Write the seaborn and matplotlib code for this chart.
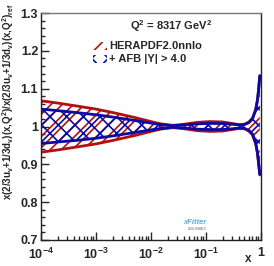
import numpy as np
import pandas as pd
import seaborn as sns
import matplotlib
matplotlib.use("Agg")
import matplotlib.pyplot as plt
from matplotlib.patches import Rectangle
from matplotlib.ticker import FixedLocator, FixedFormatter, LogLocator, NullFormatter, MultipleLocator

# values
xs = [1e-4, 2e-4, 5e-4, 1e-3, 2e-3, 5e-3, 1e-2, 1.5e-2, 2.5e-2, 4e-2, 7e-2,
      0.12, 0.2, 0.3, 0.4, 0.5, 0.6, 0.7, 0.8, 0.86, 0.9, 0.95]
red_up = [1.068, 1.062, 1.053, 1.046, 1.037, 1.024, 1.013, 1.007, 1.003, 1.006, 1.011,
          1.013, 1.012, 1.008, 1.005, 1.006, 1.012, 1.022, 1.045, 1.070, 1.095, 1.135]
red_dn = [0.932, 0.938, 0.947, 0.954, 0.963, 0.976, 0.987, 0.993, 0.997, 0.994, 0.989,
          0.987, 0.988, 0.992, 0.995, 0.994, 0.988, 0.978, 0.955, 0.930, 0.905, 0.872]
blue_up = [1.046, 1.042, 1.036, 1.031, 1.025, 1.016, 1.009, 1.005, 1.002, 1.004, 1.007,
           1.008, 1.008, 1.006, 1.004, 1.005, 1.010, 1.020, 1.043, 1.068, 1.093, 1.133]
blue_dn = [0.955, 0.959, 0.964, 0.969, 0.975, 0.984, 0.991, 0.995, 0.998, 0.996, 0.993,
           0.992, 0.992, 0.994, 0.996, 0.995, 0.990, 0.980, 0.957, 0.932, 0.907, 0.874]

series = ["HERAPDF2.0nnlo", "+ AFB |Y| > 4.0"]
title = "Q$^2$ = 8317 GeV$^2$"
ylab = "x(2/3u$_v$+1/3d$_v$)(x,Q$^2$)/x(2/3u$_v$+1/3d$_v$)(x,Q$^2$)$_{ref}$"
ytick_vals = [0.7, 0.8, 0.9, 1.0, 1.1, 1.2, 1.3]
ytick_labs = ["0.7", "0.8", "0.9", "1", "1.1", "1.2", "1.3"]
xtick_vals = [1e-4, 1e-3, 1e-2, 1e-1, 1]
xtick_labs = ["10$^{-4}$", "10$^{-3}$", "10$^{-2}$", "10$^{-1}$", "1"]

RED = "#b40f0f"
BLUE = "#0a0aa5"

sns.set_style("ticks")
plt.rcParams["font.family"] = ["Liberation Sans", "DejaVu Sans"]
plt.rcParams["font.weight"] = "bold"
plt.rcParams["mathtext.fontset"] = "custom"
plt.rcParams["mathtext.rm"] = "Liberation Sans:bold"
plt.rcParams["mathtext.it"] = "Liberation Sans:bold:italic"
plt.rcParams["mathtext.bf"] = "Liberation Sans:bold"
plt.rcParams["mathtext.default"] = "regular"
plt.rcParams["hatch.linewidth"] = 1.2

fig = plt.figure(figsize=(2.74, 2.66), dpi=100)
ax = fig.add_axes([41/274, 26/266, 220/274, 227/266])

# long-form table for the edges
rows = []
for name, up, dn in [(series[0], red_up, red_dn), (series[1], blue_up, blue_dn)]:
    for i in range(len(xs)):
        rows.append({"x": xs[i], "y": up[i], "band": name, "edge": "up"})
        rows.append({"x": xs[i], "y": dn[i], "band": name, "edge": "dn"})
df = pd.DataFrame(rows)

ax.fill_between(xs, red_dn, red_up, facecolor="none", edgecolor=RED, hatch="///", linewidth=0)
ax.fill_between(xs, blue_dn, blue_up, facecolor="none", edgecolor=BLUE, hatch="xx", linewidth=0)
sns.lineplot(data=df[df.band == series[0]], x="x", y="y", units="edge", estimator=None,
             color=RED, linewidth=2, ax=ax, legend=False)
sns.lineplot(data=df[df.band == series[1]], x="x", y="y", units="edge", estimator=None,
             color=BLUE, linewidth=2, ax=ax, legend=False)

ax.set_xscale("log")
ax.set_xlim(1e-4, 1)
ax.set_ylim(0.7, 1.3)
ax.xaxis.set_major_locator(FixedLocator(xtick_vals))
ax.xaxis.set_major_formatter(FixedFormatter(xtick_labs))
ax.xaxis.set_minor_locator(LogLocator(base=10, subs=np.arange(2, 10)))
ax.xaxis.set_minor_formatter(NullFormatter())
ax.yaxis.set_major_locator(FixedLocator(ytick_vals))
ax.yaxis.set_major_formatter(FixedFormatter(ytick_labs))
ax.yaxis.set_minor_locator(MultipleLocator(0.02))
ax.tick_params(which="major", direction="in", length=6, width=1, labelsize=9, pad=2)
ax.tick_params(which="minor", direction="in", length=3, width=1)
ax.tick_params(axis="x", which="major", pad=5)
ax.set_xlabel("")
ax.set_ylabel("")
for s in ax.spines.values():
    s.set_linewidth(1)
    s.set_color("#222222")
ax.spines["top"].set_color("#777777")

fig.text(248/274, 1 - 259/266, "x", fontsize=8.5, ha="center", va="center")
fig.text(8/274, 1 - 4/266, ylab, fontsize=7, rotation=90, ha="center", va="top")

# legend
ax.text(0.59, 0.975, title, transform=ax.transAxes, fontsize=8, ha="center", va="top")
ax.add_patch(Rectangle((52/220, 1 - 37/227), 14/220, 8/227, transform=ax.transAxes,
                       facecolor="none", edgecolor=RED, hatch="///", linewidth=0))
ax.add_patch(Rectangle((52/220, 1 - 50/227), 14/220, 8/227, transform=ax.transAxes,
                       facecolor="none", edgecolor=BLUE, hatch="xx", linewidth=0))
ax.text(68/220, 1 - 33/227, series[0], transform=ax.transAxes, fontsize=8, ha="left", va="center")
ax.text(68/220, 1 - 46/227, series[1], transform=ax.transAxes, fontsize=8, ha="left", va="center")

# xFitter logo
fig.text(195/274, 1 - 222/266, "xFitter", fontsize=5.5, color="#5aaee0", style="italic",
         ha="center", va="center")
fig.text(197/274, 1 - 229/266, "LO/NLO/NNLO", fontsize=2, color="#888888", ha="center", va="center")

fig.savefig("out.png", dpi=100)
